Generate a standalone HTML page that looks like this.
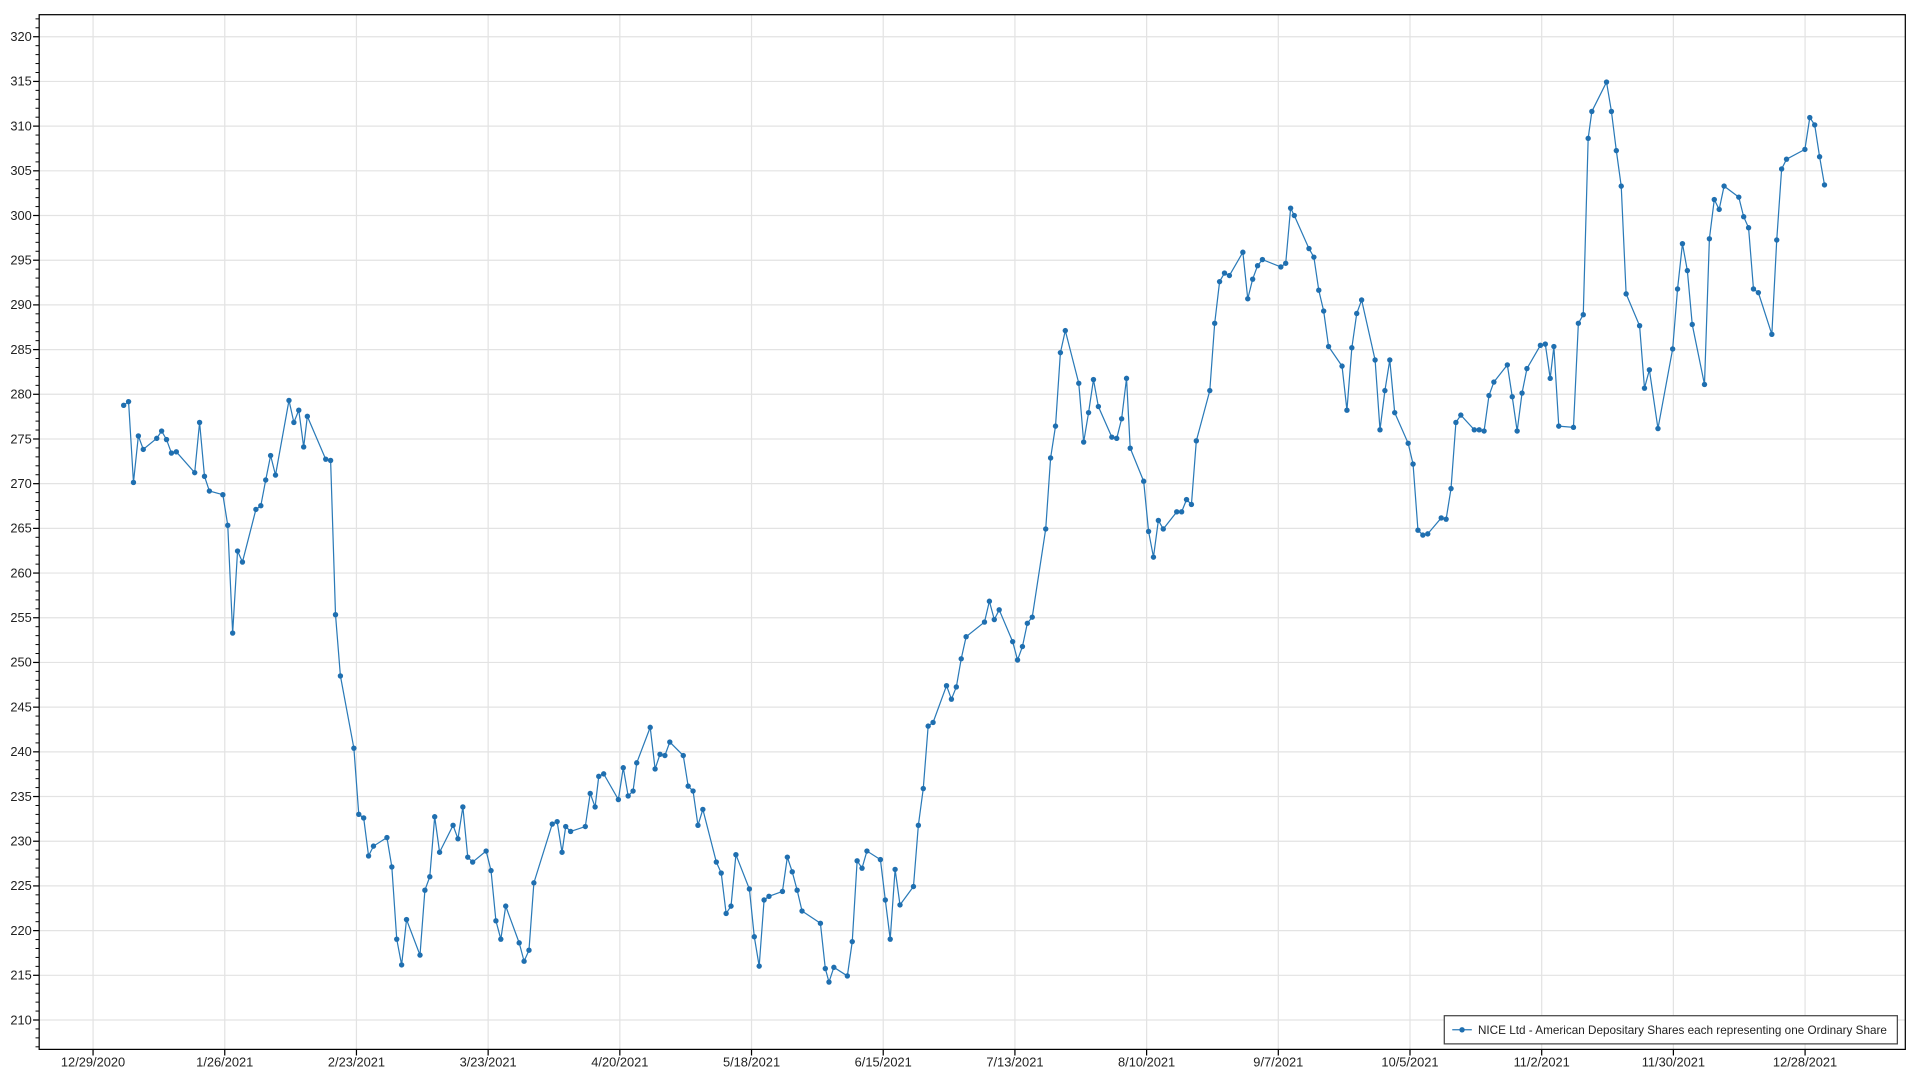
<!DOCTYPE html>
<html><head><meta charset="utf-8"><style>
html,body{margin:0;padding:0;background:#fff;width:1920px;height:1080px;overflow:hidden}
svg{display:block}
text{font-family:"Liberation Sans",sans-serif;font-size:10.5px;fill:#222}
</style></head><body>
<svg id="c" width="1920" height="1080" viewBox="0 0 1568 882" preserveAspectRatio="none" xmlns="http://www.w3.org/2000/svg">
<rect x="0" y="0" width="1568" height="882" fill="#fff"/>
<g id="grid"></g>
<g id="axes"></g>
<polyline id="ln" fill="none" stroke="#2a7ab8" stroke-width="1"/>
<g id="pts" fill="#1f6fb0"></g>
<rect x="32" y="12" width="1524" height="845" fill="none" stroke="#000" stroke-width="1"/>
<g>
<rect x="1179.5" y="829.5" width="370" height="23" fill="#fff" stroke="#444" stroke-width="1"/>
<line x1="1186" y1="841" x2="1202" y2="841" stroke="#2a7ab8" stroke-width="1"/>
<circle cx="1194" cy="841" r="2.2" fill="#1f6fb0"/>
<text x="1207" y="844.5" style="font-size:10px" textLength="334" lengthAdjust="spacingAndGlyphs">NICE Ltd - American Depositary Shares each representing one Ordinary Share</text>
</g>
</svg>
<script>
var ns="http://www.w3.org/2000/svg";
function el(t,a,p){var e=document.createElementNS(ns,t);for(var k in a)e.setAttribute(k,a[k]);document.getElementById(p).appendChild(e);return e;}
var L=32,R=1556,T=12,B=857;
function yv(v){return 833-(v-210)*7.3;}
for(var v=210;v<=320;v+=5){var y=yv(v);
 el('line',{x1:L,x2:R,y1:y,y2:y,stroke:'#e3e3e3','stroke-width':1},'grid');
 el('line',{x1:L-5,x2:L,y1:y,y2:y,stroke:'#000','stroke-width':1},'axes');
 var t=el('text',{x:L-6,y:y+3.5,'text-anchor':'end'},'axes');t.textContent=v;}
for(var v=207;v<=322;v++){if(v%5==0)continue;var y=yv(v);if(y<T||y>B)continue;
 el('line',{x1:L-3,x2:L,y1:y,y2:y,stroke:'#000','stroke-width':0.8},'axes');}
var xl=["12/29/2020","1/26/2021","2/23/2021","3/23/2021","4/20/2021","5/18/2021","6/15/2021","7/13/2021","8/10/2021","9/7/2021","10/5/2021","11/2/2021","11/30/2021","12/28/2021"];
for(var i=0;i<xl.length;i++){var x=76+i*107.55;
 el('line',{x1:x,x2:x,y1:T,y2:B,stroke:'#e3e3e3','stroke-width':1},'grid');
 el('line',{x1:x,x2:x,y1:B,y2:B+5,stroke:'#000','stroke-width':1},'axes');
 var t=el('text',{x:x,y:B+14,'text-anchor':'middle'},'axes');t.textContent=xl[i];}
var d=[[101,331],[105,328],[109,394],[113,356],[117,367],[128,358],[132,352],[136,359],[140,370],[144,369],[159,386],[163,345],[167,389],[171,401],[182,404],[186,429],[190,517],[194,450],[198,459],[209,416],[213,413],[217,392],[221,372],[225,388],[236,327],[240,345],[244,335],[248,365],[251,340],[266,375],[270,376],[274,502],[278,552],[289,611],[293,665],[297,668],[301,699],[305,691],[316,684],[320,708],[324,767],[328,788],[332,751],[343,780],[347,727],[351,716],[355,667],[359,696],[370,674],[374,685],[378,659],[382,700],[386,704],[397,695],[401,711],[405,752],[409,767],[413,740],[424,770],[428,785],[432,776],[436,721],[451,673],[455,671],[459,696],[462,675],[466,679],[478,675],[482,648],[486,659],[489,634],[493,632],[505,653],[509,627],[513,650],[517,646],[520,623],[531,594],[535,628],[539,616],[543,617],[547,606],[558,617],[562,642],[566,646],[570,674],[574,661],[585,704],[589,713],[593,746],[597,740],[601,698],[612,726],[616,765],[620,789],[624,735],[628,732],[639,728],[643,700],[647,712],[651,727],[655,744],[670,754],[674,791],[677,802],[681,790],[692,797],[696,769],[700,703],[704,709],[708,695],[719,702],[723,735],[727,767],[731,710],[735,739],[746,724],[750,674],[754,644],[758,593],[762,590],[773,560],[777,571],[781,561],[785,538],[789,520],[804,508],[808,491],[812,506],[816,498],[827,524],[831,539],[835,528],[839,509],[843,504],[854,432],[858,374],[862,348],[866,288],[870,270],[881,313],[885,361],[889,337],[893,310],[897,332],[908,357],[912,358],[916,342],[920,309],[923,366],[934,393],[938,434],[942,455],[946,425],[950,432],[961,418],[965,418],[969,408],[973,412],[977,360],[988,319],[992,264],[996,230],[1000,223],[1004,225],[1015,206],[1019,244],[1023,228],[1027,217],[1031,212],[1046,218],[1050,215],[1054,170],[1057,176],[1069,203],[1073,210],[1077,237],[1081,254],[1085,283],[1096,299],[1100,335],[1104,284],[1108,256],[1112,245],[1123,294],[1127,351],[1131,319],[1135,294],[1139,337],[1150,362],[1154,379],[1158,433],[1162,437],[1166,436],[1177,423],[1181,424],[1185,399],[1189,345],[1193,339],[1204,351],[1208,351],[1212,352],[1216,323],[1220,312],[1231,298],[1235,324],[1239,352],[1243,321],[1247,301],[1258,282],[1262,281],[1266,309],[1269,283],[1273,348],[1285,349],[1289,264],[1293,257],[1297,113],[1300,91],[1312,67],[1316,91],[1320,123],[1324,152],[1328,240],[1339,266],[1343,317],[1347,302],[1354,350],[1366,285],[1370,236],[1374,199],[1378,221],[1382,265],[1392,314],[1396,195],[1400,163],[1404,171],[1408,152],[1420,161],[1424,177],[1428,186],[1432,236],[1436,239],[1447,273],[1451,196],[1455,138],[1459,130],[1474,122],[1478,96],[1482,102],[1486,128],[1490,151]];
document.getElementById('ln').setAttribute('points',d.map(function(p){return p[0]+','+p[1]}).join(' '));
d.forEach(function(p){el('circle',{cx:p[0],cy:p[1],r:2.2},'pts');});
</script>
</body></html>
